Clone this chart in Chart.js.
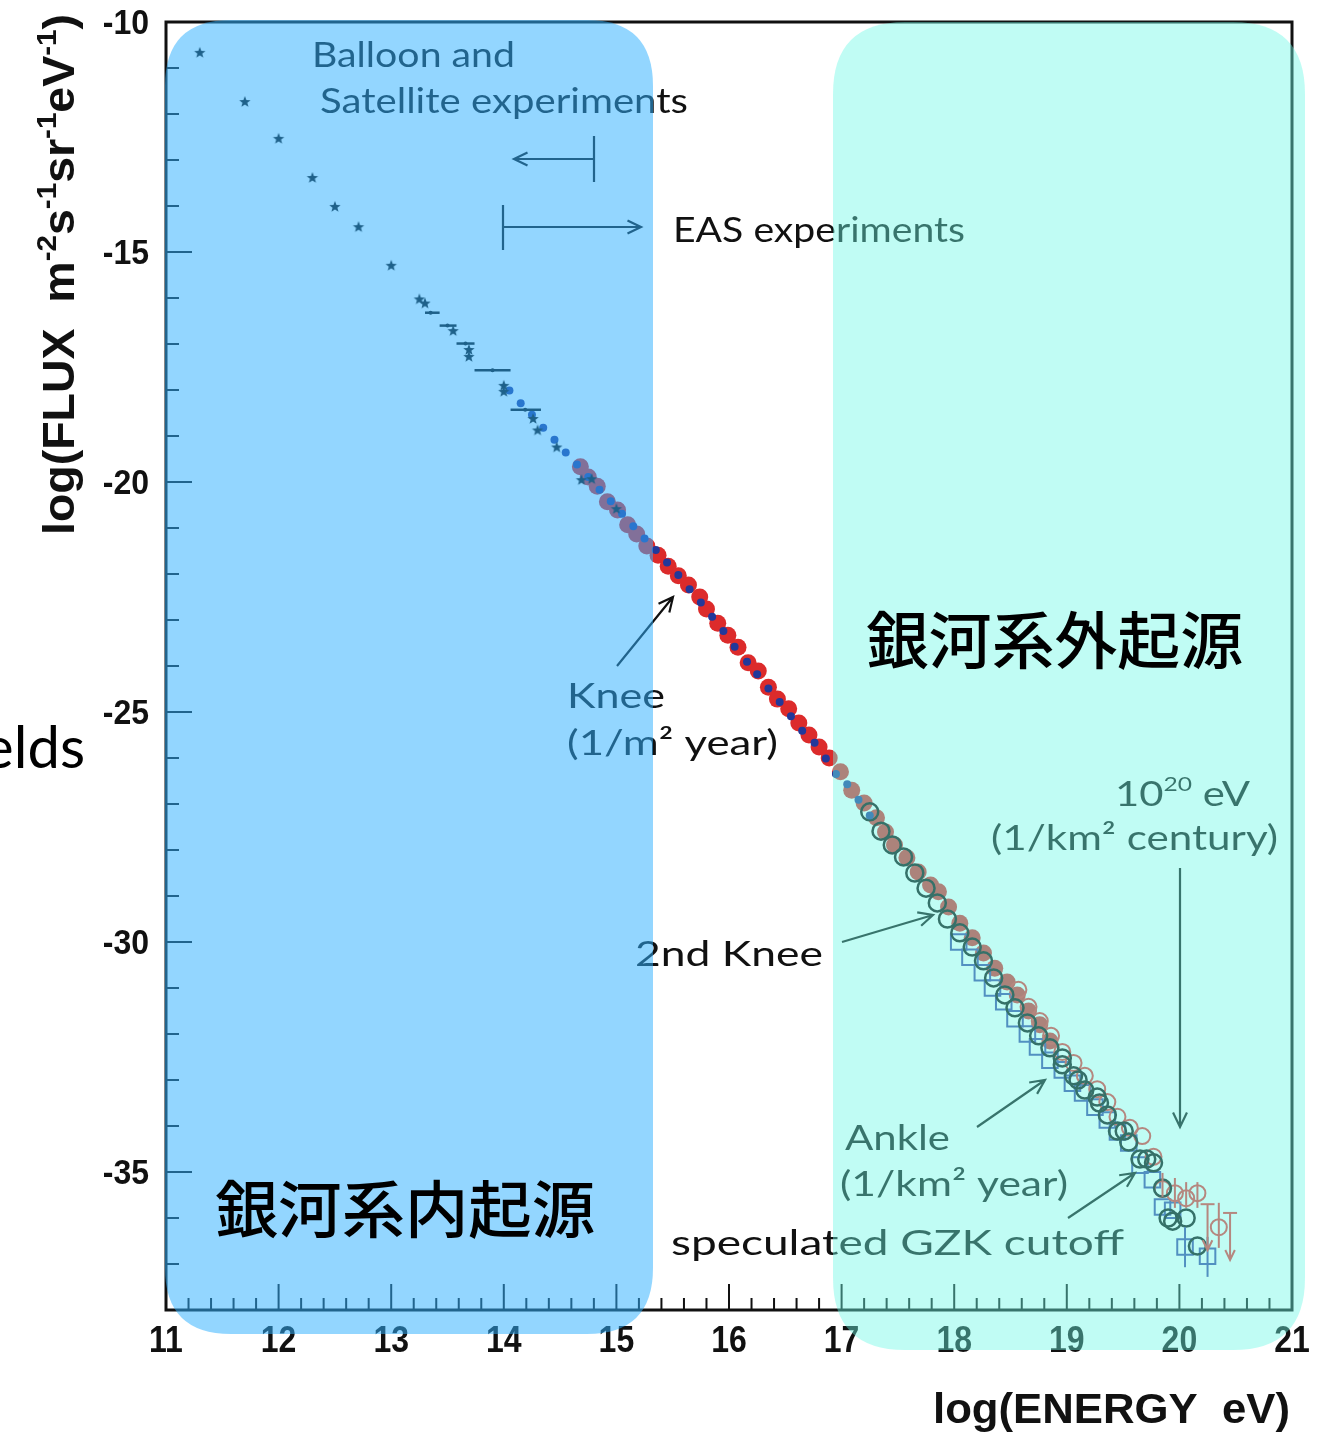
<!DOCTYPE html>
<html>
<head>
<meta charset="utf-8">
<title>Cosmic ray energy spectrum</title>
<script src="https://cdn.jsdelivr.net/npm/chart.js@4.4.1/dist/chart.umd.min.js"></script>
<style>
  html, body { margin: 0; padding: 0; background: #ffffff; }
  canvas { display: block; }
</style>
</head>
<body>
<canvas id="spectrum" width="1326" height="1432"></canvas>
<script>
// ---- axis ticks ----
const xTickValues = [11, 12, 13, 14, 15, 16, 17, 18, 19, 20, 21];
const xTickLabels = ['11', '12', '13', '14', '15', '16', '17', '18', '19', '20', '21'];
const yTickValues = [-10, -15, -20, -25, -30, -35];
const yTickLabels = ['-10', '-15', '-20', '-25', '-30', '-35'];

// ---- balloon / satellite measurements (stars) ----
const starX = [11.30, 11.70, 12.00, 12.30, 12.50, 12.71, 13.00, 13.25, 13.30, 13.55, 13.69, 13.69, 14.00, 14.00, 14.26, 14.30, 14.47, 14.69, 14.78, 15.00];
const starY = [-10.67, -11.74, -12.54, -13.39, -14.02, -14.46, -15.30, -16.03, -16.12, -16.72, -17.13, -17.28, -17.91, -18.04, -18.63, -18.88, -19.25, -19.96, -19.94, -20.59];

// ---- binned points drawn as horizontal energy bars ----
const barX = [13.35, 13.50, 13.66, 13.90, 14.19];
const barY = [-16.32, -16.60, -16.99, -17.57, -18.43];
const barLo = [13.30, 13.43, 13.58, 13.74, 14.06];
const barHi = [13.43, 13.58, 13.74, 14.06, 14.33];

// ---- small blue dots ----
const blueDotX = [14.05, 14.15, 14.25, 14.35, 14.45, 14.55, 14.65, 14.75, 14.85, 14.95, 15.05, 15.15, 15.25, 15.35, 15.45, 15.55, 15.65, 15.75, 15.85, 15.95, 16.05, 16.16, 16.25, 16.35, 16.45, 16.55, 16.65, 16.76, 16.86, 16.95, 17.05, 17.15, 17.25];
const blueDotY = [-18.01, -18.29, -18.54, -18.82, -19.08, -19.36, -19.62, -19.89, -20.17, -20.42, -20.69, -20.96, -21.23, -21.48, -21.75, -22.02, -22.33, -22.62, -22.93, -23.24, -23.58, -23.91, -24.18, -24.49, -24.78, -25.09, -25.41, -25.67, -26.01, -26.35, -26.57, -26.91, -27.25];

// ---- large red dots ----
const redDotX = [14.68, 14.75, 14.83, 14.92, 15.01, 15.10, 15.18, 15.27, 15.37, 15.46, 15.55, 15.64, 15.74, 15.80, 15.90, 15.99, 16.08, 16.17, 16.26, 16.35, 16.43, 16.53, 16.62, 16.71, 16.80, 16.89, 16.99, 17.09, 17.20, 17.31, 17.39, 17.47, 17.58, 17.68, 17.79, 17.86, 17.95, 18.05, 18.16, 18.26, 18.36, 18.47, 18.56, 18.66, 18.76, 18.85];
const redDotY = [-19.67, -19.89, -20.09, -20.43, -20.61, -20.93, -21.13, -21.39, -21.59, -21.83, -22.04, -22.24, -22.50, -22.76, -23.07, -23.33, -23.59, -23.93, -24.11, -24.46, -24.72, -24.93, -25.24, -25.50, -25.76, -26.00, -26.30, -26.70, -26.98, -27.30, -27.61, -27.89, -28.17, -28.48, -28.76, -28.91, -29.24, -29.59, -29.91, -30.24, -30.57, -30.87, -31.15, -31.50, -31.80, -32.15];

// ---- open dark circles ----
const darkCircleX = [17.25, 17.35, 17.45, 17.55, 17.65, 17.75, 17.85, 17.94, 18.05, 18.16, 18.26, 18.35, 18.45, 18.54, 18.65, 18.75, 18.85, 18.96, 18.96, 19.06, 19.10, 19.16, 19.27, 19.29, 19.36, 19.45, 19.51, 19.55, 19.65, 19.71, 19.77, 19.85, 19.90, 19.94, 20.06, 20.16];
const darkCircleY = [-27.17, -27.59, -27.89, -28.15, -28.50, -28.83, -29.15, -29.50, -29.80, -30.11, -30.41, -30.78, -31.15, -31.43, -31.76, -32.04, -32.30, -32.52, -32.67, -32.91, -33.00, -33.22, -33.37, -33.50, -33.76, -34.11, -34.11, -34.35, -34.72, -34.72, -34.80, -35.35, -36.00, -36.07, -36.00, -36.61];

// ---- open blue squares ----
const squareX = [18.04, 18.14, 18.25, 18.34, 18.44, 18.54, 18.65, 18.74, 18.85, 18.96, 19.05, 19.14, 19.25, 19.36, 19.45, 19.55, 19.65, 19.76, 19.85, 19.94, 20.05, 20.25];
const squareY = [-30.00, -30.33, -30.67, -31.00, -31.30, -31.67, -32.00, -32.28, -32.57, -32.78, -33.07, -33.28, -33.59, -33.87, -34.13, -34.37, -34.85, -35.17, -35.76, -35.83, -36.63, -36.83];
const squareErrX = [20.05, 20.25];
const squareErrHi = [-36.20, -36.41];
const squareErrLo = [-37.07, -37.28];

// ---- open red circles ----
const redCircleX = [18.57, 18.66, 18.76, 18.86, 18.96, 19.06, 19.16, 19.27, 19.36, 19.45, 19.56, 19.67, 19.77, 19.85, 19.96, 20.06, 20.16, 20.35];
const redCircleY = [-31.04, -31.41, -31.72, -32.04, -32.39, -32.63, -32.91, -33.20, -33.48, -33.80, -34.04, -34.22, -34.67, -35.37, -35.46, -35.57, -35.46, -36.20];
const redErrX = [19.85, 19.96, 20.06, 20.16, 20.35];
const redErrHi = [-35.02, -35.13, -35.22, -35.22, -35.67];
const redErrLo = [-35.54, -35.78, -35.78, -35.78, -36.65];
// upper limits
const redLimitX = [20.25, 20.45];
const redLimitTop = [-35.70, -35.89];
const redLimitBottom = [-36.70, -36.91];

const pts = (xs, ys) => xs.map((x, i) => ({ x: x, y: ys[i] }));

// filled five-pointed star used as a point style
function makeStar(r, color) {
  const c = document.createElement('canvas');
  const s = Math.ceil(r * 2 + 2);
  c.width = s; c.height = s;
  const g = c.getContext('2d');
  g.fillStyle = color;
  g.beginPath();
  for (let i = 0; i < 10; i++) {
    const a = -Math.PI / 2 + i * Math.PI / 5;
    const rr = (i % 2) ? r * 0.42 : r;
    g.lineTo(s / 2 + rr * Math.cos(a), s / 2 + rr * Math.sin(a));
  }
  g.closePath();
  g.fill();
  return c;
}
const starImg = makeStar(6, '#0b0b0b');

const INK = '#111111';
const SANS = 'Lato, "Open Sans", sans-serif';
const BOLD = '"Liberation Sans", Arial, sans-serif';

// text squeezed/stretched horizontally to span a given width
function fitText(ctx, text, x, y, w, font, sy) {
  ctx.font = font;
  const m = ctx.measureText(text).width;
  ctx.save();
  ctx.translate(x, y);
  ctx.scale(w / m, sy || 1);
  ctx.fillText(text, 0, 0);
  ctx.restore();
}

// runs of normal / superscript text, fitted to a total width
function richText(ctx, parts, x, y, w, size, supSize, rise, family, weight) {
  let total = 0;
  parts.forEach(p => {
    ctx.font = weight + ' ' + (p.sup ? supSize : size) + 'px ' + family;
    p.w = ctx.measureText(p.t).width;
    total += p.w;
  });
  ctx.save();
  ctx.translate(x, y);
  ctx.scale(w / total, 1);
  let cx = 0;
  parts.forEach(p => {
    ctx.font = weight + ' ' + (p.sup ? supSize : size) + 'px ' + family;
    ctx.fillText(p.t, cx, p.sup ? -rise : 0);
    cx += p.w;
  });
  ctx.restore();
}

function arrow(ctx, x1, y1, x2, y2, head) {
  const a = Math.atan2(y2 - y1, x2 - x1);
  const h = head || 14, sp = 0.45;
  ctx.beginPath();
  ctx.moveTo(x1, y1); ctx.lineTo(x2, y2);
  ctx.moveTo(x2 - h * Math.cos(a - sp), y2 - h * Math.sin(a - sp));
  ctx.lineTo(x2, y2);
  ctx.lineTo(x2 - h * Math.cos(a + sp), y2 - h * Math.sin(a + sp));
  ctx.stroke();
}

function roundRect(ctx, x, y, w, h, r) {
  ctx.beginPath();
  ctx.moveTo(x + r, y);
  ctx.lineTo(x + w - r, y);
  ctx.quadraticCurveTo(x + w, y, x + w, y + r);
  ctx.lineTo(x + w, y + h - r);
  ctx.quadraticCurveTo(x + w, y + h, x + w - r, y + h);
  ctx.lineTo(x + r, y + h);
  ctx.quadraticCurveTo(x, y + h, x, y + h - r);
  ctx.lineTo(x, y + r);
  ctx.quadraticCurveTo(x, y, x + r, y);
  ctx.closePath();
}

// frame, inward ticks, tick labels and axis titles
const axesPlugin = {
  id: 'axesFrame',
  beforeDraw(chart) {
    const ctx = chart.ctx;
    ctx.save();
    ctx.fillStyle = '#ffffff';
    ctx.fillRect(0, 0, chart.width, chart.height);
    ctx.restore();
  },
  beforeDatasetsDraw(chart) {
    const { ctx, chartArea: a, scales: { x, y } } = chart;
    ctx.save();
    ctx.strokeStyle = INK;
    ctx.lineWidth = 3;
    ctx.strokeRect(a.left, a.top, a.right - a.left, a.bottom - a.top);

    ctx.lineWidth = 2;
    ctx.beginPath();
    for (let v = 11; v <= 21.0001; v += 0.2) {
      const px = x.getPixelForValue(v);
      const major = Math.abs(v - Math.round(v)) < 1e-6;
      ctx.moveTo(px, a.bottom);
      ctx.lineTo(px, a.bottom - (major ? 26 : 12));
    }
    for (let v = -38; v <= -10; v += 1) {
      const py = y.getPixelForValue(v);
      const major = v % 5 === 0;
      ctx.moveTo(a.left, py);
      ctx.lineTo(a.left + (major ? 26 : 13), py);
    }
    ctx.stroke();

    ctx.fillStyle = INK;
    ctx.textBaseline = 'alphabetic';
    ctx.font = 'bold 32px ' + BOLD;
    ctx.textAlign = 'center';
    xTickValues.forEach((v, i) => {
      ctx.save();
      ctx.translate(x.getPixelForValue(v), a.bottom + 42);
      ctx.scale(1, 1.15);
      ctx.fillText(xTickLabels[i], 0, 0);
      ctx.restore();
    });
    ctx.textAlign = 'right';
    yTickValues.forEach((v, i) => {
      ctx.save();
      ctx.translate(a.left - 17, y.getPixelForValue(v) + 12);
      ctx.scale(1, 1.08);
      ctx.fillText(yTickLabels[i], 0, 0);
      ctx.restore();
    });

    // axis titles
    ctx.textAlign = 'left';
    fitText(ctx, 'log(ENERGY  eV)', 933, 1423, 357, 'bold 42px ' + BOLD);
    ctx.save();
    ctx.translate(74, 535);
    ctx.rotate(-Math.PI / 2);
    richText(ctx, [
      { t: 'log(FLUX  m' }, { t: '-2', sup: true }, { t: 's' }, { t: '-1', sup: true },
      { t: 'sr' }, { t: '-1', sup: true }, { t: 'eV' }, { t: '-1', sup: true }, { t: ')' }
    ], 0, 0, 521, 44, 28, 18, BOLD, 'bold');
    ctx.restore();
    ctx.restore();
  },
  afterDatasetsDraw(chart) {
    const { ctx, scales: { x, y } } = chart;
    const X = v => x.getPixelForValue(v), Y = v => y.getPixelForValue(v);
    ctx.save();
    // horizontal energy bars
    ctx.strokeStyle = '#0b0b0b';
    ctx.fillStyle = '#0b0b0b';
    ctx.lineWidth = 2.5;
    barX.forEach((v, i) => {
      ctx.beginPath();
      ctx.moveTo(X(barLo[i]), Y(barY[i]));
      ctx.lineTo(X(barHi[i]), Y(barY[i]));
      ctx.stroke();
      ctx.beginPath();
      ctx.arc(X(v), Y(barY[i]), 2, 0, Math.PI * 2);
      ctx.fill();
    });
    // vertical error bars
    ctx.lineWidth = 2;
    ctx.strokeStyle = 'rgb(60,65,165)';
    squareErrX.forEach((v, i) => {
      ctx.beginPath();
      ctx.moveTo(X(v), Y(squareErrHi[i]));
      ctx.lineTo(X(v), Y(squareErrLo[i]));
      ctx.stroke();
    });
    ctx.strokeStyle = 'rgb(235,50,50)';
    redErrX.forEach((v, i) => {
      ctx.beginPath();
      ctx.moveTo(X(v), Y(redErrHi[i]));
      ctx.lineTo(X(v), Y(redErrLo[i]));
      ctx.stroke();
    });
    redLimitX.forEach((v, i) => {
      const px = X(v), top = Y(redLimitTop[i]), bot = Y(redLimitBottom[i]);
      ctx.beginPath();
      ctx.moveTo(px - 7, top); ctx.lineTo(px + 7, top);
      ctx.stroke();
      arrow(ctx, px, top, px, bot, 11);
    });

    // annotations
    ctx.fillStyle = INK;
    ctx.strokeStyle = INK;
    ctx.lineWidth = 2.2;
    ctx.textAlign = 'left';
    ctx.textBaseline = 'alphabetic';
    const F = '34px ' + SANS;
    fitText(ctx, 'Balloon and', 312, 67, 203, F);
    fitText(ctx, 'Satellite experiments', 320, 113, 368, F);
    fitText(ctx, 'EAS experiments', 673, 242, 292, F);
    fitText(ctx, 'Knee', 567, 708, 98, F);
    fitText(ctx, '(1/m\u00B2 year)', 567, 755, 211, F);
    richText(ctx, [{ t: '10' }, { t: '20', sup: true }, { t: ' eV' }], 1115, 806, 135, 34, 20, 15, SANS, '');
    fitText(ctx, '(1/km\u00B2 century)', 991, 850, 287, F);
    fitText(ctx, '2nd Knee', 635, 966, 188, F);
    fitText(ctx, 'Ankle', 845, 1150, 105, F);
    fitText(ctx, '(1/km\u00B2 year)', 840, 1196, 228, F);
    fitText(ctx, 'speculated GZK cutoff', 671, 1255, 453, F);

    // range markers for the two kinds of experiment
    ctx.beginPath();
    ctx.moveTo(594, 136); ctx.lineTo(594, 182);
    ctx.moveTo(503, 205); ctx.lineTo(503, 250);
    ctx.stroke();
    arrow(ctx, 594, 159, 514, 159, 15);
    arrow(ctx, 503, 227, 641, 227, 15);
    // pointers
    arrow(ctx, 617, 666, 673, 597, 16);
    arrow(ctx, 1180, 868, 1180, 1127, 16);
    arrow(ctx, 842, 942, 933, 915, 16);
    arrow(ctx, 977, 1127, 1045, 1080, 16);
    arrow(ctx, 1068, 1218, 1135, 1173, 16);
    ctx.restore();
  },
  afterDraw(chart) {
    const ctx = chart.ctx;
    ctx.save();
    // shaded origin regions
    ctx.fillStyle = 'rgba(47,176,255,0.52)';
    roundRect(ctx, 165, 20, 488, 1314, 66);
    ctx.fill();
    ctx.fillStyle = 'rgba(108,248,229,0.43)';
    roundRect(ctx, 833, 22, 472, 1328, 72);
    ctx.fill();

    ctx.fillStyle = '#000000';
    ctx.textAlign = 'left';
    ctx.textBaseline = 'alphabetic';
    fitText(ctx, '銀河系外起源', 866, 664, 377, '500 62px "Noto Sans CJK JP"');
    fitText(ctx, '銀河系内起源', 215, 1233, 380, '500 62px "Noto Sans CJK JP"');
    ctx.font = '58px Lato, "Noto Sans", sans-serif';
    ctx.textAlign = 'right';
    ctx.fillText('fields', 85, 768);
    ctx.restore();
  }
};

new Chart(document.getElementById('spectrum'), {
  type: 'scatter',
  data: {
    datasets: [
      { label: 'Balloon/Satellite', data: pts(starX, starY), pointStyle: starImg, pointRadius: 6, order: 0 },
      { label: 'Blue dots', data: pts(blueDotX, blueDotY), pointStyle: 'circle', pointRadius: 4,
        backgroundColor: '#22389a', borderWidth: 0, order: 1 },
      { label: 'Dark circles', data: pts(darkCircleX, darkCircleY), pointStyle: 'circle', pointRadius: 8.5,
        backgroundColor: 'rgba(0,0,0,0)', borderColor: '#0b0b0b', borderWidth: 2.5, order: 2 },
      { label: 'Red circles', data: pts(redCircleX, redCircleY), pointStyle: 'circle', pointRadius: 8,
        backgroundColor: 'rgba(0,0,0,0)', borderColor: 'rgb(235,50,50)', borderWidth: 2, order: 3 },
      { label: 'Squares', data: pts(squareX, squareY), pointStyle: 'rect', pointRadius: 11,
        backgroundColor: 'rgba(0,0,0,0)', borderColor: 'rgb(60,65,165)', borderWidth: 2, order: 4 },
      { label: 'Red dots', data: pts(redDotX, redDotY), pointStyle: 'circle', pointRadius: 8.5,
        backgroundColor: '#dc2b2b', borderWidth: 0, order: 5 }
    ]
  },
  options: {
    responsive: false,
    devicePixelRatio: 1,
    animation: false,
    events: [],
    layout: { padding: { left: 0, top: 22, right: 34, bottom: 0 } },
    plugins: { legend: { display: false }, tooltip: { enabled: false } },
    scales: {
      x: {
        type: 'linear', min: 11, max: 21,
        grid: { display: false }, border: { display: false },
        ticks: { display: false, stepSize: 1 },
        afterFit(s) { s.height = 122; }
      },
      y: {
        type: 'linear', min: -38, max: -10,
        grid: { display: false }, border: { display: false },
        ticks: { display: false, stepSize: 1 },
        afterFit(s) { s.width = 166; }
      }
    }
  },
  plugins: [axesPlugin]
});
</script>
</body>
</html>
